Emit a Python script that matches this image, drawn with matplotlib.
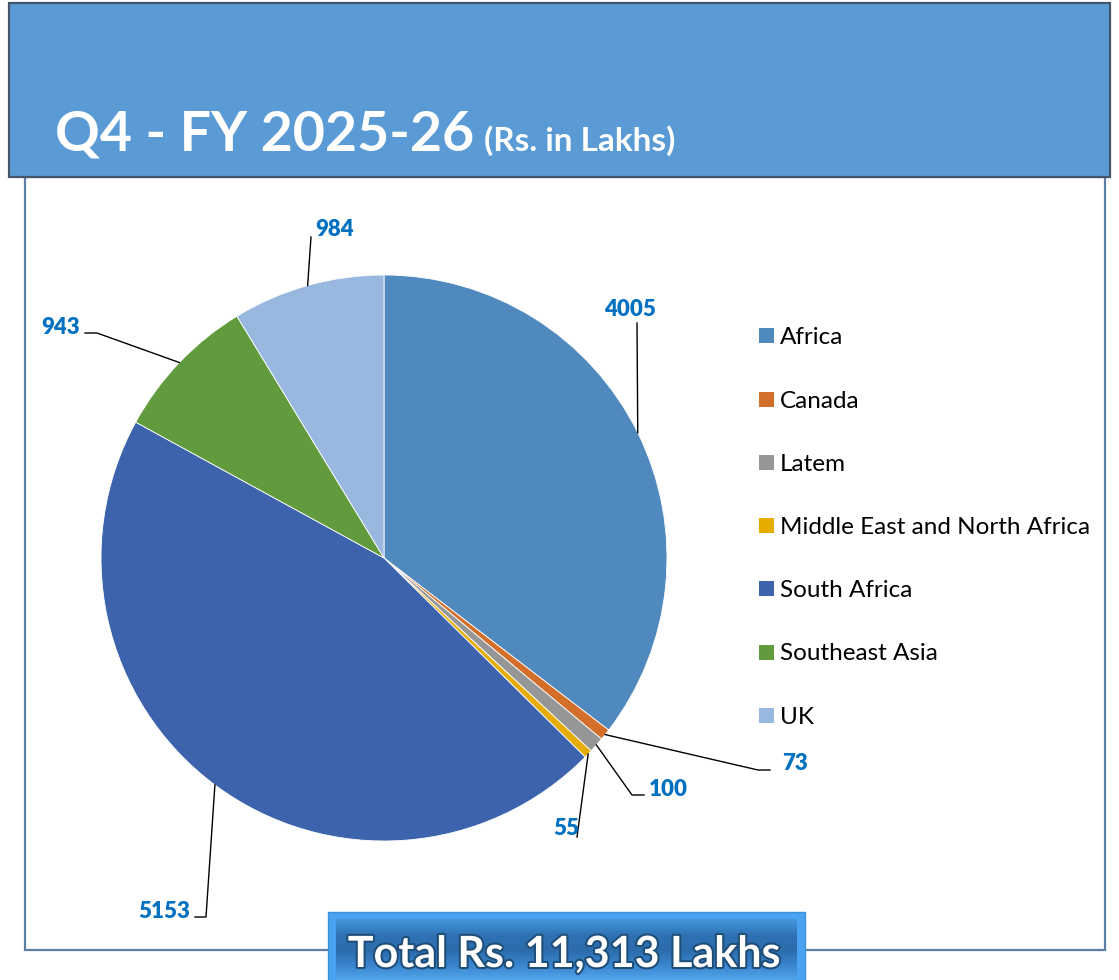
import numpy as np
import matplotlib
matplotlib.use("Agg")
import matplotlib.pyplot as plt
from matplotlib.patches import Rectangle
import matplotlib.patheffects as pe

# data (Rs. in Lakhs)
regions = ["Africa", "Canada", "Latem", "Middle East and North Africa",
           "South Africa", "Southeast Asia", "UK"]
values = [4005, 73, 100, 55, 5153, 943, 984]
colors = ["#4F89BD", "#D46F2A", "#969696", "#E6AC00", "#3C63AB", "#629B3E", "#98B8DF"]
title_main = "Q4 - FY 2025-26"
title_unit = "(Rs. in Lakhs)"
total_text = "Total Rs. {:,} Lakhs".format(sum(values))

W, H = 1119, 980
FONT = "Lato"
LABEL_BLUE = "#0070C0"


def Y(y):
    # pixel rows are counted from the top in the layout below
    return H - y


fig = plt.figure(figsize=(W / 100, H / 100), dpi=100)
ax = fig.add_axes([0, 0, 1, 1])

# pie
cx, cy, r = 384, 558, 283
wedges, _ = ax.pie(values, colors=colors, startangle=90, counterclock=False,
                   center=(cx, Y(cy)), radius=r,
                   wedgeprops=dict(edgecolor="white", linewidth=0.6))
ax.set_xlim(0, W)
ax.set_ylim(0, H)
ax.set_aspect("equal")
ax.axis("off")

# chart frame and header band
ax.add_patch(Rectangle((25, Y(950)), 1080, 773, facecolor="white",
                       edgecolor="#5B7FA6", linewidth=1.6, zorder=0))
ax.add_patch(Rectangle((9, Y(177)), 1101, 174, facecolor="#5B9BD5",
                       edgecolor="#44546A", linewidth=1.6, zorder=5))
ax.text(55, Y(151), title_main, color="white", fontsize=40, fontweight="bold",
        family=FONT, ha="left", va="baseline", zorder=6)
ax.text(484, Y(151), title_unit, color="white", fontsize=24, fontweight="bold",
        family=FONT, ha="left", va="baseline", zorder=6)

# leader lines: (points after the wedge edge, label anchor, alignment)
leaders = [
    ([(637, 323)], (630, 316), "center"),
    ([(758, 770), (770, 770)], (782, 770), "left"),
    ([(632, 795), (644, 795)], (649, 796), "left"),
    ([(577, 837)], (566, 835), "center"),
    ([(206, 917), (195, 917)], (190, 918), "right"),
    ([(97, 333), (85, 333)], (80, 334), "right"),
    ([(311, 237)], (335, 236), "center"),
]
for w, v, (pts, (lx, ly), ha) in zip(wedges, values, leaders):
    mid = np.deg2rad((w.theta1 + w.theta2) / 2)
    ex = w.center[0] + w.r * np.cos(mid)
    ey = w.center[1] + w.r * np.sin(mid)
    xs = [ex] + [p[0] for p in pts]
    ys = [ey] + [Y(p[1]) for p in pts]
    ax.plot(xs, ys, color="black", linewidth=1.0, zorder=3)
    ax.text(lx, Y(ly), str(v), color=LABEL_BLUE, fontsize=16, fontweight="heavy",
            family=FONT, ha=ha, va="baseline", zorder=4)

# legend
for i, (w, name) in enumerate(zip(wedges, regions)):
    yc = 336 + i * 63.2
    ax.add_patch(Rectangle((759, Y(yc) - 7.5), 15, 15, facecolor=w.get_facecolor(),
                           edgecolor="none"))
    ax.text(780, Y(yc), name, color="black", fontsize=17.5, family=FONT,
            ha="left", va="center_baseline")

# total box
ax.add_patch(Rectangle((328, Y(982)), 477, 70, facecolor="#4AA3F2",
                       edgecolor="#3D8FD8", linewidth=1, zorder=5))
grad = np.linspace(0, 1, 64)[:, None]
cmap = matplotlib.colors.LinearSegmentedColormap.from_list(
    "tot", ["#4596DD", "#2E72B4", "#2C6CAB", "#3A87D0", "#56A8EE"])
ax.imshow(grad, cmap=cmap, extent=(336, 797, Y(982), Y(920)), aspect="auto",
          origin="upper", zorder=6)
ax.text(564, Y(967), total_text, color="white", fontsize=31, fontweight="bold",
        family=FONT, ha="center", va="baseline", zorder=7,
        path_effects=[pe.withStroke(linewidth=3, foreground="#1F4E79")])

ax.set_xlim(0, W)
ax.set_ylim(0, H)
fig.savefig("out.png", dpi=100)
